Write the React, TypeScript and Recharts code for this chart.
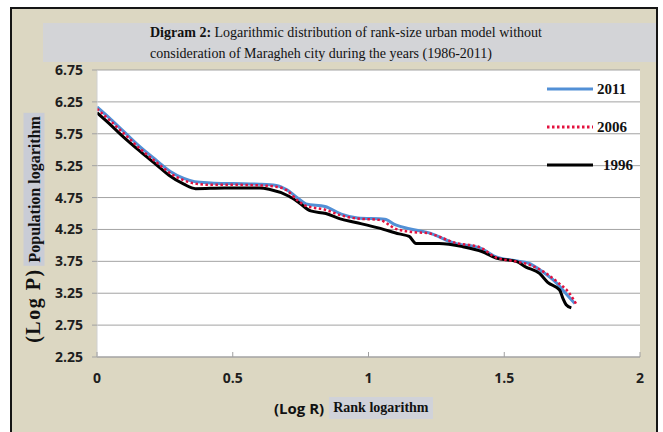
import React from 'react'
import { LineChart, Line, XAxis, YAxis, CartesianGrid } from 'recharts'

// values (log R, log P)
const X_2011 = [0, 0.05, 0.1, 0.16, 0.22, 0.27, 0.32, 0.36, 0.42, 0.5, 0.6, 0.66, 0.7, 0.74, 0.77, 0.84, 0.9, 0.96, 1.06, 1.1, 1.15, 1.22, 1.32, 1.41, 1.47, 1.54, 1.59, 1.64, 1.69, 1.73, 1.76]
const Y_2011 = [6.17, 5.98, 5.78, 5.54, 5.33, 5.16, 5.05, 5.0, 4.98, 4.97, 4.96, 4.94, 4.87, 4.74, 4.65, 4.61, 4.49, 4.43, 4.41, 4.32, 4.26, 4.2, 4.03, 3.96, 3.82, 3.76, 3.72, 3.59, 3.42, 3.23, 3.09]

const X_2006 = [0, 0.05, 0.1, 0.16, 0.22, 0.27, 0.32, 0.36, 0.42, 0.5, 0.6, 0.66, 0.7, 0.74, 0.77, 0.84, 0.9, 0.96, 1.04, 1.1, 1.16, 1.22, 1.32, 1.41, 1.47, 1.54, 1.59, 1.655, 1.7, 1.74, 1.765]
const Y_2006 = [6.14, 5.95, 5.75, 5.51, 5.3, 5.13, 5.02, 4.97, 4.95, 4.95, 4.94, 4.92, 4.86, 4.7, 4.62, 4.56, 4.47, 4.42, 4.4, 4.26, 4.21, 4.19, 4.04, 3.97, 3.81, 3.75, 3.7, 3.56, 3.41, 3.25, 3.08]

const X_1996 = [0, 0.05, 0.1, 0.16, 0.22, 0.265, 0.32, 0.363, 0.47, 0.6, 0.634, 0.707, 0.744, 0.787, 0.843, 0.893, 0.953, 1.04, 1.113, 1.15, 1.175, 1.26, 1.347, 1.42, 1.47, 1.544, 1.58, 1.63, 1.66, 1.704, 1.716, 1.728, 1.747]
const Y_1996 = [6.08, 5.89, 5.69, 5.47, 5.26, 5.1, 4.96, 4.89, 4.9, 4.9, 4.88, 4.77, 4.67, 4.54, 4.5, 4.42, 4.36, 4.27, 4.18, 4.14, 4.03, 4.03, 3.98, 3.9, 3.8, 3.75, 3.66, 3.56, 3.42, 3.3, 3.17, 3.07, 3.02]

const X_TICKS = [0, 0.5, 1, 1.5, 2]
const Y_TICKS = [2.25, 2.75, 3.25, 3.75, 4.25, 4.75, 5.25, 5.75, 6.25, 6.75]

const TITLE_BOLD = 'Digram 2:'
const TITLE_REST = ' Logarithmic distribution of rank-size urban model without'
const TITLE_LINE2 = 'consideration of Maragheh city during the years (1986-2011)'

const SERIF = '"Liberation Serif", "Times New Roman", serif'
const SANS = '"Open Sans", "Liberation Sans", sans-serif'

const toPoints = (xs: number[], ys: number[]) => xs.map((x, i) => ({ x, y: ys[i] }))

const SERIES = [
  { name: '2011', color: '#5290d6', dash: undefined as string | undefined, width: 3, data: toPoints(X_2011, Y_2011) },
  { name: '2006', color: '#e3123f', dash: '2.5 2.5', width: 2.5, data: toPoints(X_2006, Y_2006) },
  { name: '1996', color: '#000000', dash: undefined as string | undefined, width: 3, data: toPoints(X_1996, Y_1996) },
]

const X_TICK_GAP = 16

const XTick = (props: any) => {
  const { x, y, payload } = props
  return (
    <g>
      <line x1={x} x2={x} y1={y - X_TICK_GAP} y2={y - X_TICK_GAP - 5} stroke="#a0a0a0" />
      <text x={x} y={y} dy="0.71em" textAnchor="middle" fill="#1e1e1e"
        style={{ fontFamily: SANS, fontWeight: 700, fontSize: 14 }}>
        {payload.value}
      </text>
    </g>
  )
}

export default function App() {
  // draw order: blue, black, then red dots on top
  const drawOrder = [SERIES[0], SERIES[2], SERIES[1]]

  return (
    <div style={{ position: 'absolute', left: 0, top: 0, width: 663, height: 432, background: '#ffffff', overflow: 'hidden' }}>
      {/* frame */}
      <div style={{ position: 'absolute', left: 10, top: 7, width: 644, height: 440, border: '2px solid #151515', background: '#dcd7c2' }} />
      {/* title band */}
      <div style={{ position: 'absolute', left: 43, top: 23, width: 613, height: 39, background: '#d3d4d7' }} />
      <div style={{ position: 'absolute', left: 150, top: 22, fontFamily: SERIF, fontSize: 14, lineHeight: '21px', color: '#111', whiteSpace: 'nowrap' }}>
        <div><b>{TITLE_BOLD}</b>{TITLE_REST}</div>
        <div>{TITLE_LINE2}</div>
      </div>

      <div style={{ position: 'absolute', left: 0, top: 0 }}>
        <LineChart width={663} height={432} margin={{ top: 70, right: 23, left: 57, bottom: 45 }}>
          <CartesianGrid vertical={false} stroke="#a3a3a3" fill="#ffffff" fillOpacity={1} />
          <XAxis
            dataKey="x"
            type="number"
            domain={[0, 2]}
            ticks={X_TICKS}
            allowDataOverflow
            height={30}
            tickSize={0}
            tickMargin={X_TICK_GAP}
            tick={<XTick />}
            axisLine={{ stroke: '#a3a3a3' }}
          />
          <YAxis
            type="number"
            domain={[2.25, 6.75]}
            ticks={Y_TICKS}
            width={40}
            tickSize={5}
            tickMargin={9}
            tickFormatter={(v: number) => v.toFixed(2)}
            tick={{ fontFamily: SANS, fontWeight: 700, fontSize: 14, fill: '#1e1e1e' }}
            tickLine={{ stroke: '#a3a3a3' }}
            axisLine={{ stroke: '#d0d0d0' }}
          />
          {drawOrder.map((s) => (
            <Line
              key={s.name}
              data={s.data}
              dataKey="y"
              name={s.name}
              type="monotone"
              stroke={s.color}
              strokeWidth={s.width}
              strokeDasharray={s.dash}
              dot={false}
              activeDot={false}
              isAnimationActive={false}
            />
          ))}
        </LineChart>
      </div>

      {/* legend */}
      <div style={{ position: 'absolute', left: 547, top: 70, fontFamily: SERIF, fontWeight: 700, fontSize: 15, color: '#111' }}>
        {SERIES.map((s) => (
          <div key={s.name} style={{ display: 'flex', alignItems: 'center', height: 38 }}>
            <svg width={46} height={6} style={{ display: 'block' }}>
              <line x1={0} x2={46} y1={3} y2={3} stroke={s.color} strokeWidth={3} strokeDasharray={s.dash} />
            </svg>
            <span style={{ marginLeft: s.name === '1996' ? 10 : 4 }}>{s.name}</span>
          </div>
        ))}
      </div>

      {/* y axis title */}
      <div style={{ position: 'absolute', left: 33, top: 228, transform: 'translate(-50%, -50%) rotate(-90deg)', whiteSpace: 'nowrap', fontFamily: SERIF, fontWeight: 700, color: '#111' }}>
        <span style={{ fontSize: 20, letterSpacing: 1.5 }}>(Log P)</span>
        <span style={{ fontSize: 16, background: '#c9ccd6', padding: '2px 3px', marginLeft: 3 }}>Population logarithm</span>
      </div>

      {/* x axis title */}
      <div style={{ position: 'absolute', left: 274, top: 396, whiteSpace: 'nowrap', color: '#111', display: 'flex', alignItems: 'center', height: 24 }}>
        <span style={{ fontFamily: SANS, fontWeight: 700, fontSize: 15 }}>(Log R)</span>
        <span style={{ fontFamily: SERIF, fontWeight: 700, fontSize: 14, background: '#d0d2d9', padding: '3px 4px', marginLeft: 5 }}>Rank logarithm</span>
      </div>
    </div>
  )
}
